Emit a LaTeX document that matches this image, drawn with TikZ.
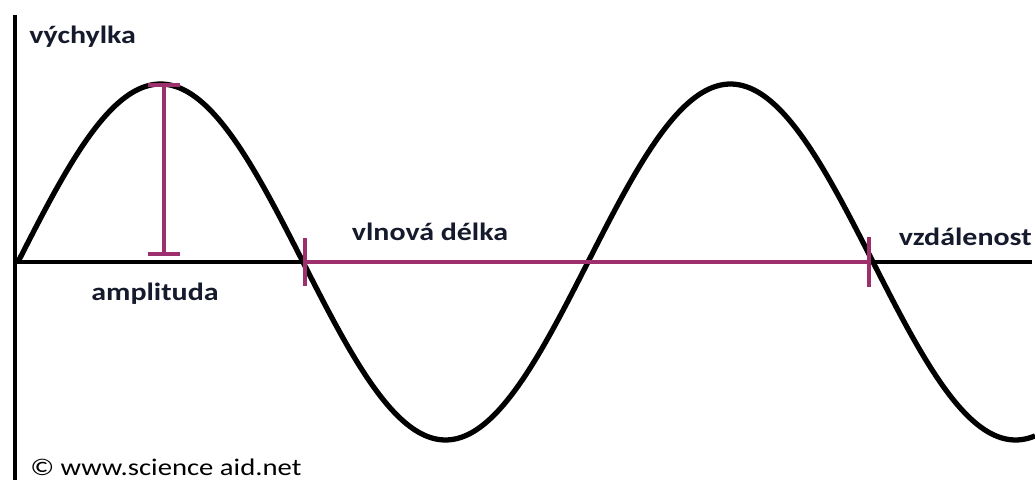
\documentclass[tikz,border=0pt]{standalone}
\usepackage{fontspec}
\usetikzlibrary{arrows.meta}
\newfontfamily\lblfont{Carlito}[FakeStretch=1.2]
\definecolor{wavepurple}{HTML}{9C2F6C}
\definecolor{labelink}{HTML}{151A2C}
\tikzset{
  axisline/.style={black, line width=1.9pt},
  waveline/.style={black, line width=3pt, line join=round},
  marker/.style={wavepurple, line width=2.2pt},
  lbl/.style={font=\lblfont\bfseries\fontsize{14.2}{16}\selectfont, text=labelink, inner sep=0pt},
  credit/.style={font=\lblfont\fontsize{13.6}{16}\selectfont, text=black, inner sep=0pt}
}

\begin{document}
\begin{tikzpicture}[x=0.02cm, y=-0.02cm]
  \useasboundingbox (0,0) rectangle (1035,480);

  % axes
  \coordinate (top) at (15,15);
  \coordinate (bottom) at (15,480);
  \coordinate (origin) at (15,262);
  \coordinate (far) at (1032,262);
  \draw[axisline] (top) -- (bottom);
  \draw[axisline] (origin) -- (far);

  % the wave (period 570px)
  \draw[waveline] plot[domain=18:1035, samples=240, smooth]
    (\x, {262-178*sin(0.631579*(\x-18))});

  % amplitude marker
  \coordinate (amptop) at (164,83);
  \coordinate (ampbot) at (164,256);
  \draw[marker, {Bar[width=18.5pt]}-{Bar[width=18.5pt]}] (amptop) -- (ampbot);

  % wavelength marker
  \coordinate (wavestart) at (303,262);
  \coordinate (waveend) at (871,262);
  \draw[marker, {Bar[width=27pt]}-{Bar[width=29pt]}] (wavestart) -- (waveend);

  % labels
  \node[lbl, anchor=base east] (xlabel) at (1032,245) {vzdálenost};
  \node[lbl, anchor=base west] (ylabel) at (29,43) {výchylka};
  \node[lbl, anchor=base] (amplabel) at (155,300) {amplituda};
  \node[lbl, anchor=base] (wavelabel) at (430,240) {vlnová délka};
  \node[credit, anchor=base west] (creditline) at (30,475) {© www.science aid.net};
\end{tikzpicture}
\end{document}
